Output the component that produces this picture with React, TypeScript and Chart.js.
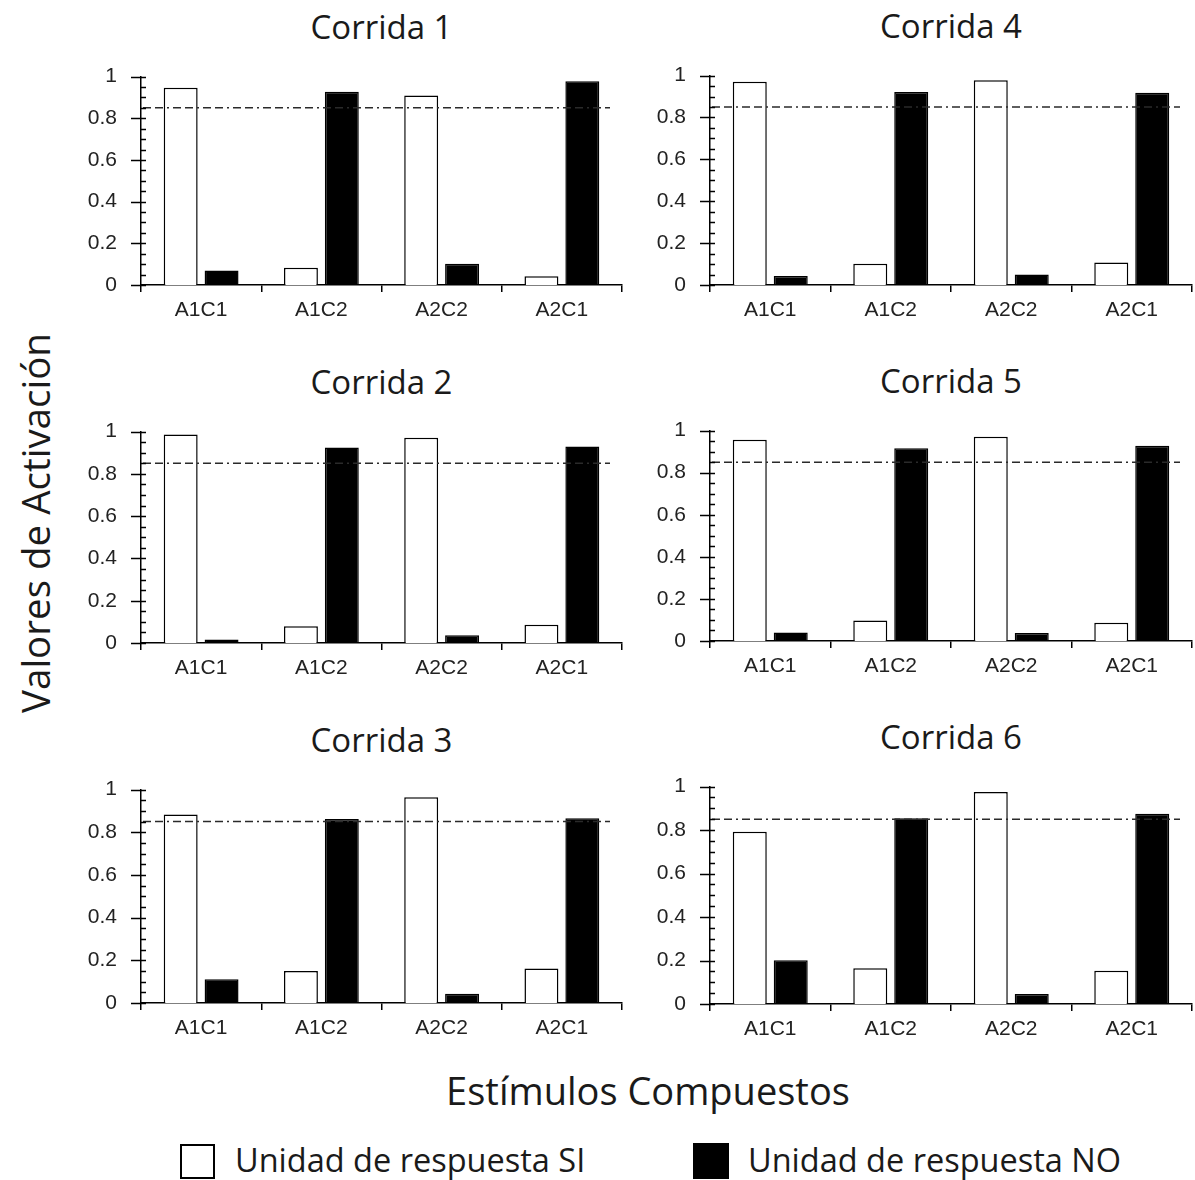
import React, { useEffect, useRef } from "react";
import { Chart, registerables } from "chart.js";

Chart.register(...registerables);

// ---------- data ----------
const CATEGORIES = ["A1C1", "A1C2", "A2C2", "A2C1"];
const Y_TICKS = [0, 0.2, 0.4, 0.6, 0.8, 1];
const Y_TICK_LABELS = ["0", "0.2", "0.4", "0.6", "0.8", "1"];
const THRESHOLD = 0.85;
const SERIES_NAMES = ["Unidad de respuesta SI", "Unidad de respuesta NO"];
const RUN_TITLES = ["Corrida 1", "Corrida 2", "Corrida 3", "Corrida 4", "Corrida 5", "Corrida 6"];

const SI_RUN1 = [0.946, 0.083, 0.909, 0.042];
const NO_RUN1 = [0.069, 0.927, 0.102, 0.978];
const SI_RUN2 = [0.986, 0.079, 0.971, 0.086];
const NO_RUN2 = [0.016, 0.925, 0.037, 0.929];
const SI_RUN3 = [0.883, 0.15, 0.964, 0.162];
const NO_RUN3 = [0.111, 0.862, 0.043, 0.866];
const SI_RUN4 = [0.971, 0.101, 0.978, 0.107];
const NO_RUN4 = [0.043, 0.922, 0.05, 0.918];
const SI_RUN5 = [0.957, 0.098, 0.971, 0.087];
const NO_RUN5 = [0.04, 0.916, 0.038, 0.928];
const SI_RUN6 = [0.792, 0.164, 0.975, 0.153];
const NO_RUN6 = [0.201, 0.854, 0.046, 0.875];

const SI_RUNS = [SI_RUN1, SI_RUN2, SI_RUN3, SI_RUN4, SI_RUN5, SI_RUN6];
const NO_RUNS = [NO_RUN1, NO_RUN2, NO_RUN3, NO_RUN4, NO_RUN5, NO_RUN6];

// ---------- layout (plot-area boxes in page pixels) ----------
const PANELS = [
  { L: 141, R: 622, T: 56, B: 285 },
  { L: 141, R: 622, T: 411, B: 643 },
  { L: 141, R: 622, T: 769, B: 1003 },
  { L: 710, R: 1192, T: 55, B: 285 },
  { L: 710, R: 1192, T: 410, B: 641 },
  { L: 710, R: 1192, T: 766, B: 1004 },
];
const Y_AXIS_W = 70;
const X_AXIS_H = 42;
const PAD_TOP = 16;
const PAD_RIGHT = 4;

const TICK_FONT = { family: "'Liberation Sans', Arial, sans-serif", size: 21 };
const TEXT_FONT = "'Open Sans', 'Noto Sans', sans-serif";

const decorPlugin = {
  id: "decor",
  afterDatasetsDraw(chart: any, _args: any, opts: any) {
    const { ctx, chartArea, scales } = chart;
    const y = scales.y;
    const left = chartArea.left;
    ctx.save();
    // threshold line (dash-dash-dot)
    const ty = y.getPixelForValue(opts.threshold);
    ctx.strokeStyle = "#2a2a2a";
    ctx.lineWidth = 1.5;
    ctx.setLineDash([8, 4, 8, 4, 2, 4]);
    ctx.beginPath();
    ctx.moveTo(left + 2, ty);
    ctx.lineTo(chartArea.right - 12, ty);
    ctx.stroke();
    ctx.setLineDash([]);
    // y tick marks: major (crossing) and minor (inside)
    ctx.strokeStyle = "#000";
    ctx.lineWidth = 1.5;
    ctx.beginPath();
    const min = y.min;
    const max = y.max;
    const step = opts.minorStep;
    const n = Math.round((max - min) / step);
    for (let i = 0; i <= n; i++) {
      const v = min + i * step;
      const py = Math.round(y.getPixelForValue(v)) + 0.5;
      const isMajor = opts.majors.some((m: number) => Math.abs(m - v) < 1e-6);
      ctx.moveTo(isMajor ? left - 10 : left, py);
      ctx.lineTo(left + 5, py);
    }
    ctx.stroke();
    ctx.restore();
  },
};

function Panel({ idx }: { idx: number }) {
  const ref = useRef<HTMLCanvasElement | null>(null);
  const p = PANELS[idx];
  const width = Y_AXIS_W + (p.R - p.L) + PAD_RIGHT;
  const height = PAD_TOP + (p.B - p.T) + X_AXIS_H;

  useEffect(() => {
    if (!ref.current) return;
    const chart = new Chart(ref.current, {
      type: "bar",
      data: {
        labels: CATEGORIES,
        datasets: [
          {
            label: SERIES_NAMES[0],
            data: SI_RUNS[idx],
            backgroundColor: "#ffffff",
            borderColor: "#000000",
            borderWidth: 1.5,
            categoryPercentage: 0.68,
            barPercentage: 0.83,
          },
          {
            label: SERIES_NAMES[1],
            data: NO_RUNS[idx],
            backgroundColor: "#000000",
            borderColor: "#000000",
            borderWidth: 1.5,
            categoryPercentage: 0.68,
            barPercentage: 0.83,
          },
        ],
      },
      options: {
        responsive: false,
        animation: false,
        devicePixelRatio: 1,
        layout: { padding: { top: PAD_TOP, right: PAD_RIGHT, left: 0, bottom: 0 } },
        plugins: {
          legend: { display: false },
          tooltip: { enabled: false },
          title: { display: false },
          decor: { threshold: THRESHOLD, minorStep: 0.05, majors: Y_TICKS },
        } as any,
        scales: {
          x: {
            type: "category",
            offset: true,
            grid: {
              offset: true,
              drawOnChartArea: false,
              drawTicks: true,
              tickLength: 7,
              lineWidth: 1.5,
              color: (c: any) => (c.index === CATEGORIES.length ? "rgba(0,0,0,0)" : "#000"),
            },
            border: { display: true, color: "#000", width: 1.5 },
            ticks: {
              font: TICK_FONT,
              color: "#222",
              padding: 6,
              maxRotation: 0,
              autoSkip: false,
            },
            afterFit: (s: any) => {
              s.height = X_AXIS_H;
            },
          },
          y: {
            min: 0,
            max: 1,
            afterBuildTicks: (s: any) => {
              s.ticks = Y_TICKS.map((v) => ({ value: v }));
            },
            ticks: {
              font: TICK_FONT,
              color: "#222",
              padding: 24,
              callback: (_v: any, i: number) => Y_TICK_LABELS[i],
            },
            grid: { display: false, drawTicks: false },
            border: { display: true, color: "#000", width: 1.5 },
            afterFit: (s: any) => {
              s.width = Y_AXIS_W;
            },
          },
        },
      },
      plugins: [decorPlugin],
    });
    return () => chart.destroy();
  }, [idx]);

  return (
    <>
      <div
        style={{
          position: "absolute",
          left: (p.L + p.R) / 2,
          top: p.T - 30,
          transform: "translate(-50%, -50%)",
          fontFamily: TEXT_FONT,
          fontSize: 33,
          lineHeight: 1,
          color: "#1a1a1a",
          whiteSpace: "nowrap",
        }}
      >
        {RUN_TITLES[idx]}
      </div>
      <canvas
        ref={ref}
        width={width}
        height={height}
        style={{
          position: "absolute",
          left: p.L - Y_AXIS_W,
          top: p.T - PAD_TOP,
          width,
          height,
        }}
      />
    </>
  );
}

export default function App() {
  return (
    <div
      style={{
        position: "absolute",
        left: 0,
        top: 0,
        width: 1195,
        height: 1180,
        background: "#fff",
        overflow: "hidden",
      }}
    >
      {PANELS.map((_, i) => (
        <Panel key={i} idx={i} />
      ))}
      <div
        style={{
          position: "absolute",
          left: 35,
          top: 523,
          transform: "translate(-50%, -50%) rotate(-90deg)",
          fontFamily: TEXT_FONT,
          fontSize: 38.5,
          lineHeight: 1,
          color: "#1a1a1a",
          whiteSpace: "nowrap",
        }}
      >
        Valores de Activación
      </div>
      <div
        style={{
          position: "absolute",
          left: 648,
          top: 1090,
          transform: "translate(-50%, -50%)",
          fontFamily: TEXT_FONT,
          fontSize: 38,
          lineHeight: 1,
          color: "#1a1a1a",
          whiteSpace: "nowrap",
        }}
      >
        Estímulos Compuestos
      </div>
      <div
        style={{
          position: "absolute",
          left: 180,
          top: 1144,
          width: 31,
          height: 31,
          border: "2.5px solid #000",
          background: "#fff",
        }}
      />
      <div
        style={{
          position: "absolute",
          left: 235,
          top: 1160,
          transform: "translateY(-50%)",
          fontFamily: TEXT_FONT,
          fontSize: 32.5,
          lineHeight: 1,
          color: "#1a1a1a",
          whiteSpace: "nowrap",
        }}
      >
        {SERIES_NAMES[0]}
      </div>
      <div
        style={{
          position: "absolute",
          left: 693,
          top: 1143,
          width: 36,
          height: 36,
          background: "#000",
        }}
      />
      <div
        style={{
          position: "absolute",
          left: 748,
          top: 1160,
          transform: "translateY(-50%)",
          fontFamily: TEXT_FONT,
          fontSize: 32.5,
          lineHeight: 1,
          color: "#1a1a1a",
          whiteSpace: "nowrap",
        }}
      >
        {SERIES_NAMES[1]}
      </div>
    </div>
  );
}
